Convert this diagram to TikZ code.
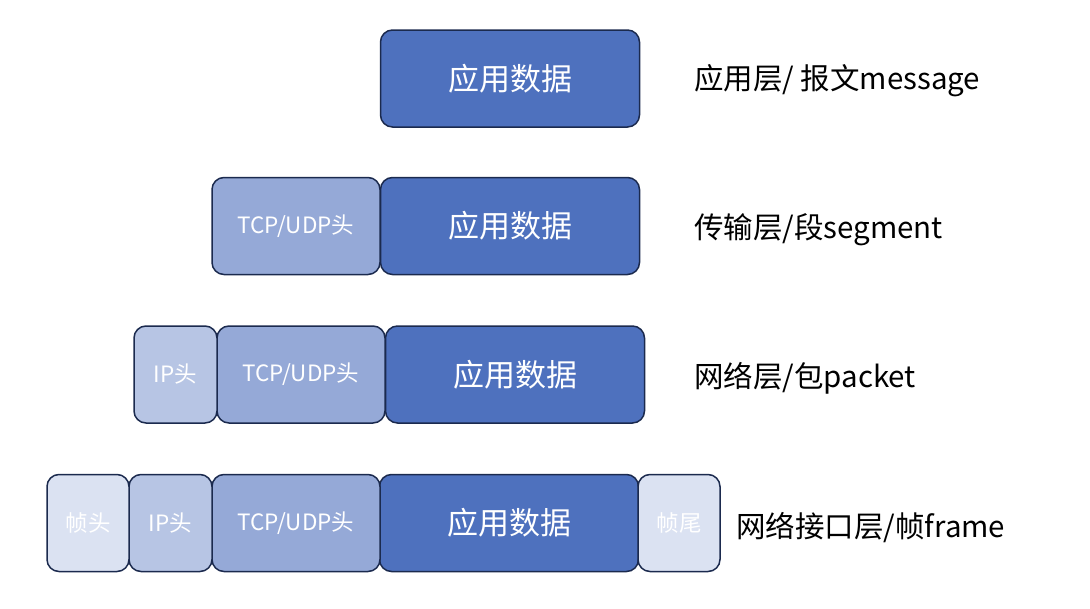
\documentclass[tikz,border=0pt]{standalone}
\usepackage{fontspec}
\setmainfont{Noto Sans CJK SC}
\usetikzlibrary{positioning}
\definecolor{appblue}{HTML}{4E71BE}
\definecolor{tcpblue}{HTML}{95A9D7}
\definecolor{ipblue}{HTML}{B7C5E4}
\definecolor{frameblue}{HTML}{DBE2F2}
\definecolor{edgenavy}{HTML}{1B2A4E}
\begin{document}
\begin{tikzpicture}[
    x=1pt, y=-1pt,
    every node/.style={inner sep=0pt},
    seg/.style={draw=edgenavy, line width=1.5pt, rectangle, rounded corners=12pt, minimum height=97pt, text=white, font=\fontsize{22.5}{25}\selectfont},
    app/.style={seg, fill=appblue, minimum width=259pt, font=\fontsize{31}{34}\selectfont},
    tcp/.style={seg, fill=tcpblue, minimum width=168pt},
    ip/.style={seg, fill=ipblue, minimum width=83pt},
    frm/.style={seg, fill=frameblue, minimum width=82pt},
    layer/.style={anchor=west, font=\fontsize{29.5}{32}\selectfont}
]
    \useasboundingbox (0,0) rectangle (1090,608);

    % application layer
    \node[app] (app1) at (510, 78.5) {应用数据};
    \node[layer] (lab1) at (694, 81) {应用层/ 报文message};

    % transport layer
    \node[app] (app2) at (510, 226) {应用数据};
    \node[tcp] (tcp2) at (296, 226) {TCP/UDP头};
    \node[layer] (lab2) at (694, 230) {传输层/段segment};

    % network layer
    \node[app] (app3) at (515, 374.5) {应用数据};
    \node[tcp] (tcp3) at (301, 374.5) {TCP/UDP头};
    \node[ip] (ip3) at (175.5, 374.5) {IP头};
    \node[layer] (lab3) at (694, 378) {网络层/包packet};

    % network interface layer
    \node[app] (app4) at (509, 523) {应用数据};
    \node[tcp] (tcp4) at (296, 523) {TCP/UDP头};
    \node[ip] (ip4) at (170.5, 523) {IP头};
    \node[frm] (fh4) at (88, 523) {帧头};
    \node[frm] (ft4) at (679, 523) {帧尾};
    \node[layer] (lab4) at (736, 528) {网络接口层/帧frame};
\end{tikzpicture}
\end{document}
